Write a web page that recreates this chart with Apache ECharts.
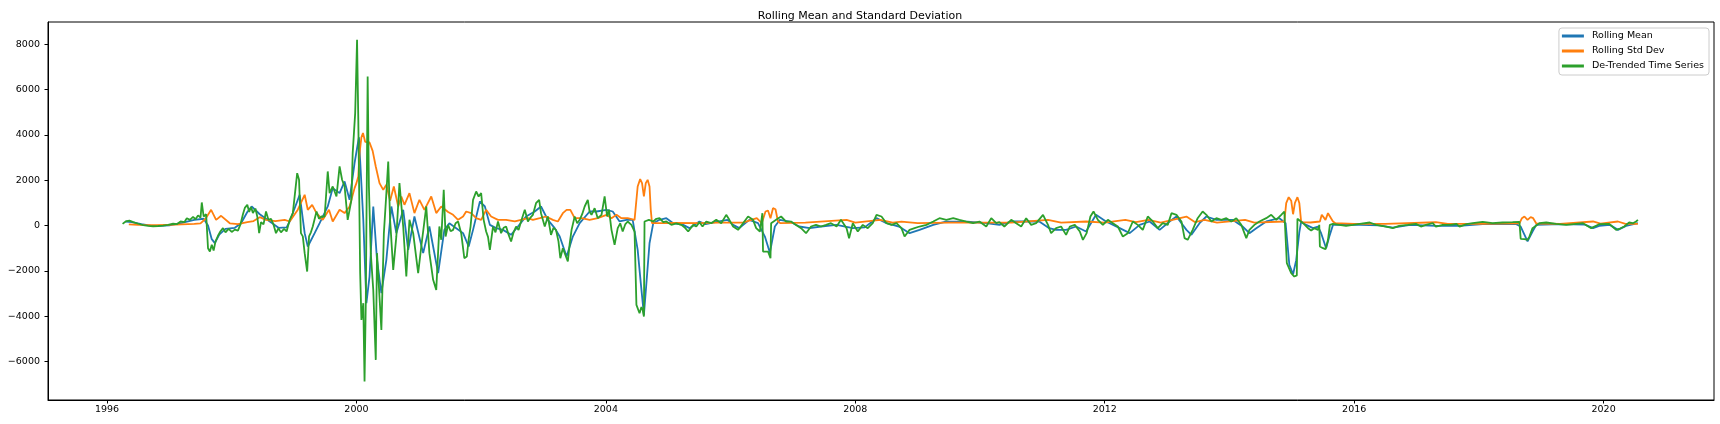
<!DOCTYPE html>
<html>
<head>
<meta charset="utf-8">
<title>Rolling Mean and Standard Deviation</title>
<script src="https://cdn.jsdelivr.net/npm/echarts@6/dist/echarts.min.js"></script>
<style>
  html, body { margin: 0; padding: 0; background: #fff; }
  #main { width: 1720px; height: 424px; }
</style>
</head>
<body>
<div id="main"></div>
<script>
// tick labels
const xTicks = [1996, 2000, 2004, 2008, 2012, 2016, 2020];
const yTicks = [-6000, -4000, -2000, 0, 2000, 4000, 6000, 8000];

// series, [decimal year, value]
const rollingMean = [
  [1996.30, 180], [1996.40, 150], [1996.55, 60], [1996.70, 0], [1996.85, -10], [1997.00, 10],
  [1997.20, 120], [1997.40, 250], [1997.55, 300], [1997.62, 0], [1997.68, -600], [1997.73, -778],
  [1997.80, -400], [1997.90, -150], [1998.05, -100], [1998.15, 100], [1998.25, 600], [1998.32, 842],
  [1998.45, 500], [1998.55, 300], [1998.65, 100], [1998.75, -100], [1998.88, -80], [1998.93, 180],
  [1999.09, 1359], [1999.17, -335], [1999.22, -925], [1999.33, -335], [1999.41, 107], [1999.54, 843],
  [1999.62, 1653], [1999.73, 1432], [1999.81, 1948], [1999.89, 1138], [1999.97, 2758], [2000.04, 3900],
  [2000.11, 254], [2000.16, -3430], [2000.21, -2250], [2000.27, 843], [2000.33, -1514], [2000.40, -2987],
  [2000.48, -1514], [2000.56, 843], [2000.64, -335], [2000.75, 696], [2000.83, -1072], [2000.93, 400],
  [2001.07, -1219], [2001.17, -40], [2001.31, -2103], [2001.41, -190], [2001.49, 105], [2001.60, -115],
  [2001.71, -335], [2001.80, -926], [2001.87, -190], [2001.98, 1063], [2002.06, 842], [2002.14, 30],
  [2002.24, -115], [2002.35, -190], [2002.48, -410], [2002.59, -42], [2002.72, 400], [2002.86, 621],
  [2002.96, 842], [2003.07, 253], [2003.18, -115], [2003.26, -485], [2003.37, -1368], [2003.47, -485],
  [2003.58, 105], [2003.74, 621], [2003.85, 621], [2004.01, 695], [2004.11, 621], [2004.22, 180],
  [2004.33, 253], [2004.43, 253], [2004.51, -1073], [2004.56, -2546], [2004.61, -3946], [2004.65, -2546],
  [2004.70, -780], [2004.76, 105], [2004.86, 253], [2004.97, 326], [2005.08, 105], [2005.24, 30],
  [2005.34, -115], [2005.50, 180], [2005.60, 60], [2005.75, 150], [2005.95, 250], [2006.04, 30],
  [2006.14, -115], [2006.30, 253], [2006.44, 105], [2006.55, -485], [2006.63, -1200], [2006.71, -42],
  [2006.79, 253], [2006.95, 178], [2007.10, -42], [2007.27, -115], [2007.45, -42], [2007.70, 30],
  [2007.96, -115], [2008.15, -80], [2008.34, 326], [2008.50, 105], [2008.70, -42], [2008.87, -336],
  [2009.03, -190], [2009.25, 30], [2009.45, 178], [2009.80, 178], [2010.10, 105], [2010.31, 30],
  [2010.52, 180], [2010.74, 180], [2010.95, 180], [2011.11, -115], [2011.22, -190], [2011.38, -190],
  [2011.54, -42], [2011.70, -263], [2011.86, 474], [2012.02, 180], [2012.24, -115], [2012.40, -336],
  [2012.56, 30], [2012.72, 180], [2012.88, -190], [2013.04, 180], [2013.15, 400], [2013.31, -190],
  [2013.39, -410], [2013.52, 105], [2013.63, 400], [2013.79, 253], [2014.05, 253], [2014.21, -42],
  [2014.32, -336], [2014.43, -115], [2014.59, 180], [2014.80, 326], [2014.90, 105], [2014.96, -1729],
  [2015.02, -2150], [2015.07, -1530], [2015.12, -300], [2015.15, 180], [2015.23, 30], [2015.34, -115],
  [2015.42, -44], [2015.47, -336], [2015.55, -1000], [2015.60, -490], [2015.66, 30], [2015.80, 30],
  [2016.10, 30], [2016.40, 10], [2016.62, -88], [2016.90, 30], [2017.31, -15], [2017.69, -15],
  [2018.06, 60], [2018.60, 60], [2018.67, -44], [2018.78, -700], [2018.86, -263], [2018.92, 30],
  [2019.30, 60], [2019.70, 40], [2019.83, -115], [2019.93, -15], [2020.10, 30], [2020.23, -190],
  [2020.36, -15], [2020.55, 105]
];

const rollingStd = [
  [1996.35, 50], [1996.50, 30], [1996.80, 20], [1997.10, 40], [1997.40, 70], [1997.50, 100],
  [1997.58, 300], [1997.67, 695], [1997.75, 253], [1997.83, 430], [1997.97, 100], [1998.10, 60],
  [1998.25, 150], [1998.35, 200], [1998.45, 370], [1998.55, 250], [1998.70, 200], [1998.85, 250],
  [1998.93, 180], [1999.06, 700], [1999.17, 1359], [1999.22, 696], [1999.29, 917], [1999.36, 550],
  [1999.46, 254], [1999.56, 696], [1999.62, 180], [1999.73, 696], [1999.81, 550], [1999.89, 843],
  [1999.97, 1653], [2000.00, 1874], [2000.03, 2170], [2000.05, 3200], [2000.08, 3900], [2000.105, 4084],
  [2000.14, 3700], [2000.21, 3670], [2000.26, 3300], [2000.31, 2608], [2000.37, 1874], [2000.43, 1578],
  [2000.48, 1800], [2000.54, 1100], [2000.60, 1726], [2000.67, 843], [2000.72, 1284], [2000.77, 917],
  [2000.85, 1432], [2000.93, 550], [2001.01, 1138], [2001.09, 696], [2001.20, 1284], [2001.28, 550],
  [2001.36, 843], [2001.47, 600], [2001.55, 474], [2001.63, 253], [2001.71, 400], [2001.76, 621],
  [2001.84, 547], [2001.92, 326], [2002.00, 253], [2002.08, 695], [2002.16, 400], [2002.27, 253],
  [2002.40, 253], [2002.54, 180], [2002.64, 253], [2002.75, 326], [2002.83, 253], [2002.94, 326],
  [2003.04, 400], [2003.15, 253], [2003.23, 180], [2003.31, 547], [2003.37, 695], [2003.43, 695],
  [2003.50, 326], [2003.61, 326], [2003.74, 253], [2003.87, 326], [2004.01, 474], [2004.09, 326],
  [2004.17, 474], [2004.25, 326], [2004.35, 326], [2004.46, 253], [2004.48, 326], [2004.51, 1726],
  [2004.55, 2050], [2004.58, 1873], [2004.61, 1284], [2004.64, 1873], [2004.67, 2020], [2004.70, 1726],
  [2004.72, 695], [2004.74, 105], [2004.90, 105], [2005.10, 120], [2005.50, 105], [2005.80, 130],
  [2006.20, 130], [2006.42, 326], [2006.50, 105], [2006.56, 620], [2006.60, 665], [2006.64, 326],
  [2006.68, 768], [2006.72, 720], [2006.76, 178], [2006.80, 105], [2007.20, 130], [2007.86, 253],
  [2008.00, 130], [2008.40, 253], [2008.60, 130], [2008.74, 178], [2009.00, 105], [2009.50, 130],
  [2010.00, 130], [2010.50, 130], [2011.09, 253], [2011.30, 130], [2011.70, 180], [2012.00, 130],
  [2012.33, 253], [2012.50, 150], [2012.70, 253], [2012.90, 130], [2013.31, 400], [2013.45, 150],
  [2013.60, 253], [2013.80, 130], [2014.25, 253], [2014.40, 130], [2014.88, 180], [2014.91, 989],
  [2014.95, 1254], [2014.99, 1100], [2015.02, 500], [2015.05, 1000], [2015.09, 1254], [2015.12, 1000],
  [2015.15, 150], [2015.30, 135], [2015.45, 180], [2015.48, 474], [2015.50, 518], [2015.54, 250],
  [2015.58, 547], [2015.61, 577], [2015.66, 180], [2015.70, 105], [2016.00, 76], [2016.50, 76],
  [2017.31, 147], [2017.50, 76], [2018.00, 76], [2018.65, 100], [2018.69, 326], [2018.73, 400],
  [2018.78, 250], [2018.83, 370], [2018.87, 326], [2018.92, 90], [2019.30, 76], [2019.83, 180],
  [2019.95, 90], [2020.23, 180], [2020.35, 76], [2020.55, 76]
];

const detrended = [
  [1996.25, 75], [1996.30, 180], [1996.36, 223], [1996.42, 150], [1996.50, 80], [1996.58, 20],
  [1996.66, -10], [1996.74, -30], [1996.82, -20], [1996.90, 0], [1996.98, 30], [1997.06, 80],
  [1997.12, 60], [1997.18, 180], [1997.24, 150], [1997.28, 320], [1997.33, 250], [1997.38, 380],
  [1997.42, 280], [1997.46, 450], [1997.50, 350], [1997.52, 1019], [1997.55, 400], [1997.59, 500],
  [1997.62, -1000], [1997.65, -1147], [1997.68, -850], [1997.71, -1100], [1997.74, -700], [1997.78, -450],
  [1997.82, -250], [1997.86, -115], [1997.90, -300], [1997.95, -150], [1998.00, -280], [1998.05, -180],
  [1998.10, -220], [1998.14, 50], [1998.18, 500], [1998.21, 780], [1998.25, 916], [1998.28, 600],
  [1998.31, 820], [1998.34, 550], [1998.38, 750], [1998.41, 400], [1998.44, -336], [1998.47, 150],
  [1998.51, 50], [1998.55, 621], [1998.59, 250], [1998.63, 300], [1998.67, 50], [1998.71, -336],
  [1998.75, -120], [1998.79, -300], [1998.84, -150], [1998.88, -260], [1998.93, 254], [1998.98, 550],
  [1999.05, 2316], [1999.08, 2020], [1999.11, -335], [1999.14, -480], [1999.17, -1219], [1999.21, -2030],
  [1999.24, -480], [1999.27, -300], [1999.30, -40], [1999.36, 622], [1999.40, 300], [1999.44, 400],
  [1999.49, 400], [1999.54, 2390], [1999.57, 1432], [1999.62, 1726], [1999.68, 1284], [1999.73, 2611],
  [1999.77, 2022], [1999.81, 1726], [1999.86, 254], [1999.92, 1138], [1999.94, 3200], [1999.98, 4968],
  [2000.01, 8208], [2000.03, 4673], [2000.06, -2103], [2000.08, -4165], [2000.11, -3430], [2000.13, -6890],
  [2000.15, -3430], [2000.18, 6588], [2000.20, 1726], [2000.23, -1219], [2000.27, -2840], [2000.31, -5933],
  [2000.33, -1219], [2000.36, -1219], [2000.40, -4607], [2000.44, -335], [2000.48, 1432], [2000.51, 2832],
  [2000.54, 254], [2000.59, -1956], [2000.64, -480], [2000.69, 1874], [2000.75, -40], [2000.80, -2250],
  [2000.85, 254], [2000.91, -335], [2000.99, -2103], [2001.04, -925], [2001.12, 843], [2001.17, -1219],
  [2001.23, -2398], [2001.28, -2840], [2001.33, -40], [2001.36, -630], [2001.40, 1579], [2001.43, -485],
  [2001.47, 30], [2001.51, -250], [2001.55, -190], [2001.59, 100], [2001.63, 180], [2001.68, -335],
  [2001.73, -1441], [2001.77, -1368], [2001.80, -600], [2001.83, -42], [2001.87, 1136], [2001.92, 1505],
  [2001.96, 1284], [2002.00, 1431], [2002.04, 253], [2002.08, -263], [2002.11, -500], [2002.14, -1073],
  [2002.19, -42], [2002.23, -300], [2002.27, 180], [2002.32, -335], [2002.36, -100], [2002.40, -42],
  [2002.44, -400], [2002.48, -706], [2002.52, -300], [2002.56, -42], [2002.60, -200], [2002.64, 180],
  [2002.70, 695], [2002.75, 180], [2002.79, 350], [2002.83, 474], [2002.88, 989], [2002.93, 1136],
  [2002.96, 547], [2003.02, -42], [2003.07, 400], [2003.12, -410], [2003.16, -100], [2003.20, -190],
  [2003.24, -700], [2003.27, -1441], [2003.31, -1000], [2003.34, -1220], [2003.39, -1588], [2003.42, -800],
  [2003.45, -190], [2003.50, 400], [2003.54, 100], [2003.58, 253], [2003.62, 500], [2003.66, 842],
  [2003.71, 1136], [2003.74, 600], [2003.77, 474], [2003.82, 768], [2003.87, 326], [2003.93, 474],
  [2003.98, 1284], [2004.02, 400], [2004.05, 700], [2004.09, -190], [2004.14, -852], [2004.19, -115],
  [2004.23, 100], [2004.27, -263], [2004.31, 50], [2004.35, 180], [2004.41, 30], [2004.46, -263],
  [2004.49, -3503], [2004.54, -3872], [2004.57, -3600], [2004.59, -3724], [2004.61, -4019], [2004.62, 180],
  [2004.69, 250], [2004.76, 180], [2004.81, 300], [2004.86, 326], [2004.92, 150], [2004.97, 180],
  [2005.05, 30], [2005.13, 100], [2005.21, 30], [2005.27, -100], [2005.32, -263], [2005.40, 30],
  [2005.45, -42], [2005.50, 150], [2005.55, -42], [2005.61, 178], [2005.69, 105], [2005.77, 253],
  [2005.85, 105], [2005.93, 473], [2005.98, 253], [2006.04, -42], [2006.12, -190], [2006.20, 105],
  [2006.28, 400], [2006.36, 253], [2006.41, -115], [2006.47, -263], [2006.51, 547], [2006.52, -1147],
  [2006.55, -1073], [2006.60, -1147], [2006.64, -1441], [2006.65, 105], [2006.73, 253], [2006.81, 400],
  [2006.89, 178], [2006.97, 178], [2007.05, 30], [2007.13, -115], [2007.21, -336], [2007.29, -42],
  [2007.37, 30], [2007.45, -42], [2007.53, 30], [2007.61, 105], [2007.70, -42], [2007.77, 253],
  [2007.86, -115], [2007.90, -560], [2007.96, 105], [2008.04, -263], [2008.12, 30], [2008.20, -115],
  [2008.28, 105], [2008.34, 473], [2008.42, 400], [2008.50, 105], [2008.58, 30], [2008.66, 105],
  [2008.74, -115], [2008.79, -485], [2008.87, -190], [2008.95, -115], [2009.03, -42], [2009.14, 30],
  [2009.25, 178], [2009.35, 326], [2009.46, 253], [2009.57, 326], [2009.67, 253], [2009.78, 178],
  [2009.89, 105], [2009.99, 178], [2010.10, -42], [2010.18, 326], [2010.26, 105], [2010.31, 150],
  [2010.39, -42], [2010.50, 253], [2010.58, 105], [2010.66, -42], [2010.74, 326], [2010.82, 30],
  [2010.90, 105], [2011.01, 474], [2011.09, 30], [2011.14, -336], [2011.22, -115], [2011.30, -42],
  [2011.38, -410], [2011.44, -42], [2011.52, 30], [2011.60, -263], [2011.65, -630], [2011.71, -336],
  [2011.77, 400], [2011.82, 621], [2011.89, 253], [2011.97, 30], [2012.05, 253], [2012.13, 105],
  [2012.21, -42], [2012.29, -485], [2012.37, -336], [2012.45, 180], [2012.53, 30], [2012.61, -190],
  [2012.69, 400], [2012.77, 180], [2012.85, -115], [2012.93, 105], [2013.01, 30], [2013.07, 547],
  [2013.15, 474], [2013.23, 180], [2013.28, -556], [2013.33, -630], [2013.41, -190], [2013.49, 326],
  [2013.57, 621], [2013.63, 474], [2013.71, 180], [2013.79, 326], [2013.87, 253], [2013.95, 326],
  [2014.03, 180], [2014.11, 326], [2014.19, 30], [2014.27, -556], [2014.32, -190], [2014.40, 30],
  [2014.48, 180], [2014.59, 326], [2014.67, 474], [2014.75, 253], [2014.83, 474], [2014.88, 621],
  [2014.92, -1662], [2014.95, -1736], [2014.99, -2104], [2015.04, -2252], [2015.08, -2200], [2015.09, 300],
  [2015.12, 326], [2015.18, 105], [2015.26, -115], [2015.31, -219], [2015.36, -115], [2015.42, -190],
  [2015.44, 30], [2015.45, -925], [2015.50, -1000], [2015.54, -1044], [2015.58, -631], [2015.61, 30],
  [2015.66, 76], [2015.76, 30], [2015.87, -15], [2015.98, 30], [2016.09, 76], [2016.25, 135],
  [2016.35, 30], [2016.51, -44], [2016.62, -115], [2016.72, -15], [2016.86, 30], [2016.99, 76],
  [2017.07, -44], [2017.15, 30], [2017.26, 105], [2017.31, -44], [2017.42, 30], [2017.55, 30],
  [2017.64, 76], [2017.69, -44], [2017.80, 60], [2017.90, 105], [2018.06, 165], [2018.22, 105],
  [2018.38, 135], [2018.54, 150], [2018.65, 165], [2018.67, -585], [2018.73, -600], [2018.78, -630],
  [2018.81, -490], [2018.86, -115], [2018.97, 105], [2019.08, 135], [2019.24, 76], [2019.40, 30],
  [2019.56, 76], [2019.67, 105], [2019.80, -115], [2019.83, -44], [2019.93, 60], [2020.09, 76],
  [2020.20, -190], [2020.25, -150], [2020.33, -44], [2020.41, 135], [2020.47, 105], [2020.52, 180],
  [2020.55, 253]
];

const seriesNames = ['Rolling Mean', 'Rolling Std Dev', 'De-Trended Time Series'];
const seriesColors = ['#1f77b4', '#ff7f0e', '#2ca02c'];

const FONT = 'DejaVu Sans';
const minus = v => (v < 0 ? '\u2212' + Math.abs(v) : String(v));

const myChart = echarts.init(document.getElementById('main'), null, { renderer: 'canvas' });

const option = {
  animation: false,
  backgroundColor: '#fff',
  textStyle: { fontFamily: FONT },
  title: {
    text: 'Rolling Mean and Standard Deviation',
    left: 'center',
    top: 6,
    textStyle: { fontFamily: FONT, fontSize: 11, fontWeight: 'normal', color: '#000' }
  },
  legend: {
    data: seriesNames,
    orient: 'vertical',
    right: 11,
    top: 28,
    itemWidth: 22,
    itemHeight: 3,
    itemGap: 3,
    icon: 'rect',
    padding: [2, 5, 3, 3],
    backgroundColor: 'rgba(255,255,255,0.8)',
    borderColor: '#cccccc',
    borderWidth: 1,
    borderRadius: 3,
    textStyle: { fontFamily: FONT, fontSize: 9.5, color: '#000', lineHeight: 12, padding: [0, 0, 0, 3] }
  },
  grid: {
    left: 48, right: 6, top: 22, bottom: 24,
    show: true, borderColor: '#000', borderWidth: 1
  },
  xAxis: {
    type: 'value',
    min: 1995.054,
    max: 2021.77,
    splitLine: { show: false },
    axisLine: { show: true, onZero: false, lineStyle: { color: '#000', width: 1 } },
    axisTick: { show: true, length: 3.5, lineStyle: { color: '#000' }, customValues: xTicks },
    axisLabel: {
      customValues: xTicks,
      formatter: v => String(Math.round(v)),
      fontFamily: FONT, fontSize: 9.5, color: '#000', margin: 5
    }
  },
  yAxis: {
    type: 'value',
    min: -7704,
    max: 8990,
    splitLine: { show: false },
    axisLine: { show: true, onZero: false, lineStyle: { color: '#000', width: 1 } },
    axisTick: { show: true, length: 3.5, lineStyle: { color: '#000' }, customValues: yTicks },
    axisLabel: {
      customValues: yTicks,
      formatter: minus,
      fontFamily: FONT, fontSize: 9.5, color: '#000', margin: 8
    }
  },
  series: [rollingMean, rollingStd, detrended].map((d, i) => ({
    name: seriesNames[i],
    type: 'line',
    data: d,
    symbol: 'none',
    showSymbol: false,
    color: seriesColors[i],
    lineStyle: { color: seriesColors[i], width: 1.8 },
    emphasis: { disabled: true },
    z: 2 + i
  }))
};

myChart.setOption(option);
</script>
</body>
</html>
